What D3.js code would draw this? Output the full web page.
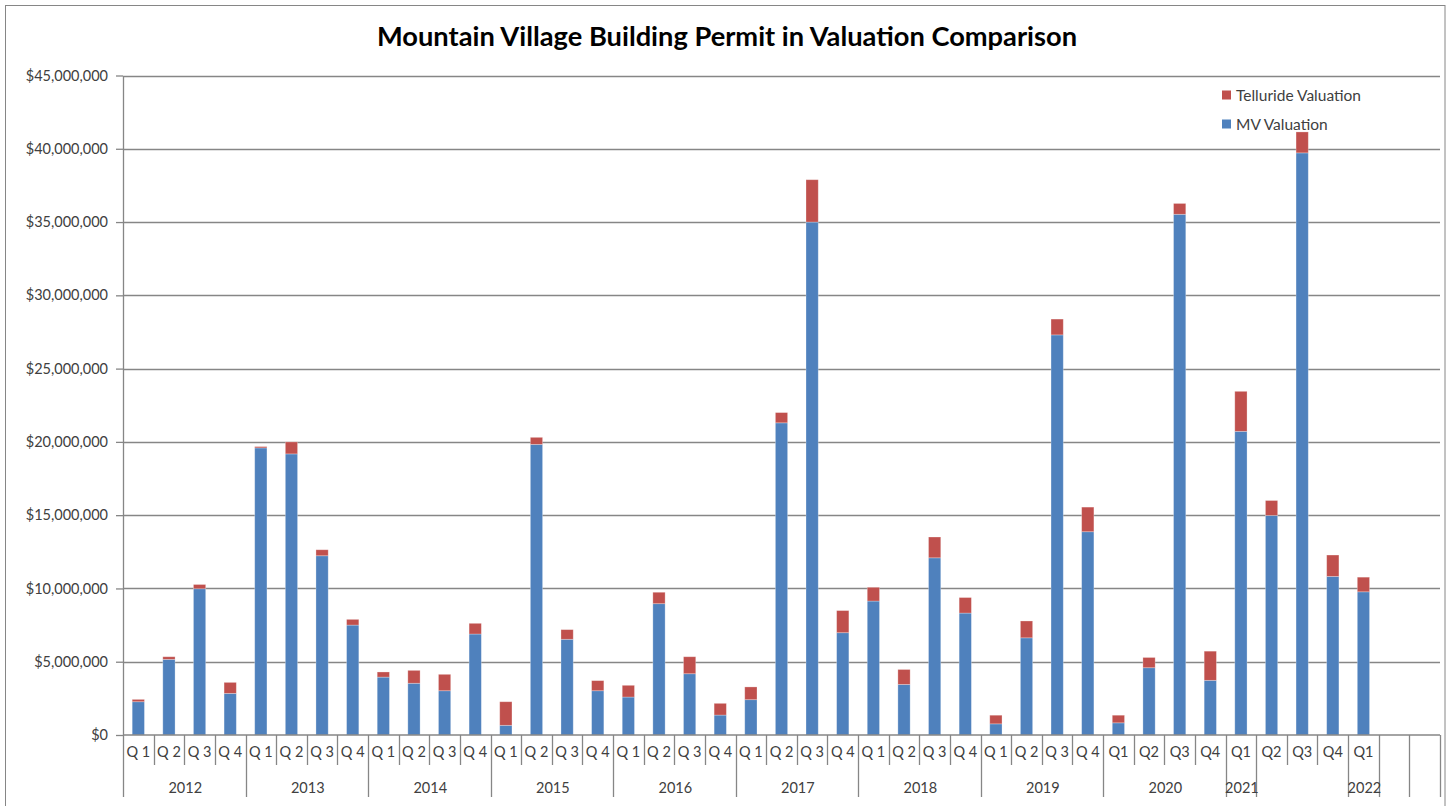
<!DOCTYPE html>
<html>
<head>
<meta charset="utf-8">
<script src="https://cdn.jsdelivr.net/npm/d3@7"></script>
<style>
  html, body { margin: 0; padding: 0; background: #fff; }
  svg { display: block; }
  text { font-family: Lato, "Open Sans", sans-serif; }
</style>
</head>
<body>
<svg id="chart" width="1452" height="806"></svg>
<script>
// ---- data (values in dollars) ----
const quarterLabels = [
  "Q 1","Q 2","Q 3","Q 4", "Q 1","Q 2","Q 3","Q 4", "Q 1","Q 2","Q 3","Q 4",
  "Q 1","Q 2","Q 3","Q 4", "Q 1","Q 2","Q 3","Q 4", "Q 1","Q 2","Q 3","Q 4",
  "Q 1","Q 2","Q 3","Q 4", "Q 1","Q 2","Q 3","Q 4",
  "Q1","Q2","Q3","Q4", "Q1","Q2","Q3","Q4", "Q1", "", ""
];
const yearLabels = ["2012","2013","2014","2015","2016","2017","2018","2019","2020","2021","","2022","",""];
const yearSpans  = [4,4,4,4,4,4,4,4,4,1,3,1,1,1];

const mvValuation = [
  2270000, 5160000, 9980000, 2840000,
  19590000, 19180000, 12230000, 7500000,
  3950000, 3530000, 3020000, 6890000,
  660000, 19830000, 6530000, 3020000,
  2590000, 8960000, 4180000, 1360000,
  2410000, 21300000, 35000000, 6980000,
  9140000, 3450000, 12090000, 8320000,
  760000, 6630000, 27300000, 13870000,
  830000, 4590000, 35530000, 3730000,
  20720000, 14980000, 39720000, 10820000,
  9770000
];
const tellurideValuation = [
  160000, 180000, 290000, 750000,
  90000, 820000, 410000, 390000,
  350000, 880000, 1120000, 730000,
  1610000, 480000, 660000, 690000,
  800000, 780000, 1160000, 800000,
  870000, 700000, 2890000, 1510000,
  940000, 1020000, 1420000, 1060000,
  590000, 1150000, 1080000, 1680000,
  520000, 700000, 740000, 1990000,
  2730000, 1020000, 1430000, 1460000,
  1000000
];
const yTicks = [0, 5e6, 10e6, 15e6, 20e6, 25e6, 30e6, 35e6, 40e6, 45e6];
const seriesNames = ["Telluride Valuation", "MV Valuation"];
const seriesColors = ["#C0504D", "#4F81BD"];
const chartTitle = "Mountain Village Building Permit in Valuation Comparison";

(function () {
// ---- layout ----
const svg = d3.select("#chart");
const plotLeft = 123, plotRight = 1440, plotTop = 75.5, plotBottom = 735;
const gridColor = "#868686";
const textColor = "#404040";

// outer border
svg.append("rect").attr("x", 5.5).attr("y", 5.5).attr("width", 1439.5).attr("height", 820)
  .attr("fill", "none").attr("stroke", gridColor).attr("stroke-width", 1);

const x = d3.scaleBand().domain(d3.range(quarterLabels.length)).range([plotLeft, plotRight])
  .paddingInner(0.6).paddingOuter(0.3);
const step = x.step();
const y = d3.scaleLinear().domain([0, 45e6]).range([plotBottom, plotTop]);

// gridlines
svg.append("g").selectAll("line").data(yTicks.filter(d => d > 0)).join("line")
  .attr("x1", plotLeft).attr("x2", plotRight)
  .attr("y1", d => Math.round(y(d)) + 0.5).attr("y2", d => Math.round(y(d)) + 0.5)
  .attr("stroke", gridColor).attr("stroke-width", 1.3);

// y axis
const yAxis = d3.axisLeft(y).tickValues(yTicks).tickSize(7).tickSizeOuter(0).tickPadding(8)
  .tickFormat(d => "$" + d3.format(",")(d));
const gy = svg.append("g").attr("transform", `translate(${plotLeft},0)`).call(yAxis);
gy.select(".domain").attr("stroke", gridColor).attr("stroke-width", 1.3);
gy.selectAll(".tick line").attr("stroke", gridColor).attr("stroke-width", 1.3);
gy.selectAll(".tick text").attr("fill", textColor).style("font-size", "14.5px")
  .style("font-family", "Lato, 'Open Sans', sans-serif");

// stacked bars
const stackData = mvValuation.map((mv, i) => ({ i, mv, tel: tellurideValuation[i] }));
const stack = d3.stack().keys(["mv", "tel"])(stackData);
const colorFor = { mv: seriesColors[1], tel: seriesColors[0] };
svg.append("g").selectAll("g").data(stack).join("g")
  .attr("fill", s => colorFor[s.key])
  .selectAll("rect").data(s => s).join("rect")
  .attr("x", d => x(d.data.i))
  .attr("width", x.bandwidth())
  .attr("y", d => y(d[1]))
  .attr("height", d => y(d[0]) - y(d[1]))
  .attr("stroke", "#ffffff").attr("stroke-opacity", 0.35).attr("stroke-width", 0.8);

// x axis line
svg.append("line").attr("x1", plotLeft).attr("x2", plotRight).attr("y1", plotBottom).attr("y2", plotBottom)
  .attr("stroke", gridColor).attr("stroke-width", 1.3);

// category boundaries
const boundary = i => x(i) - x.paddingOuter() * step;
const gx = svg.append("g");
const yearStarts = [];
let acc = 0;
yearSpans.forEach(s => { yearStarts.push(acc); acc += s; });
const yearBoundarySet = new Set(yearStarts.concat([acc]));
for (let i = 0; i <= quarterLabels.length; i++) {
  const bx = Math.round(i < quarterLabels.length ? boundary(i) : plotRight) + 0.5;
  const full = yearBoundarySet.has(i);
  gx.append("line").attr("x1", bx).attr("x2", bx).attr("y1", plotBottom)
    .attr("y2", full ? 797 : 765).attr("stroke", gridColor).attr("stroke-width", 1.3);
}
// quarter labels
gx.selectAll("text.q").data(quarterLabels).join("text").attr("class", "q")
  .attr("x", (d, i) => x(i) + x.bandwidth() / 2).attr("y", 757)
  .attr("text-anchor", "middle").attr("fill", textColor).style("font-size", "14.5px")
  .text(d => d);
// year labels
gx.selectAll("text.yr").data(yearLabels).join("text").attr("class", "yr")
  .attr("x", (d, k) => {
    const s = yearStarts[k], e = s + yearSpans[k];
    const x0 = boundary(s), x1 = e < quarterLabels.length ? boundary(e) : plotRight;
    return (x0 + x1) / 2 + 1;
  })
  .attr("y", 793).attr("text-anchor", "middle").attr("fill", textColor).style("font-size", "14.5px")
  .text(d => d);

// title
const t = svg.append("text").attr("x", 727).attr("y", 46).attr("text-anchor", "middle")
  .attr("fill", "#000").style("font-weight", "bold").style("font-size", "26px").text(chartTitle);
const tw = t.node().getComputedTextLength();
t.style("font-size", (26 * 700 / tw).toFixed(2) + "px");

// legend
const lg = svg.append("g");
seriesNames.forEach((name, k) => {
  const ly = 95 + k * 29;
  lg.append("rect").attr("x", 1222).attr("y", ly - 4.5).attr("width", 9).attr("height", 9)
    .attr("fill", seriesColors[k]);
  lg.append("text").attr("x", 1236).attr("y", ly + 5.5).attr("fill", textColor)
    .style("font-size", "15.5px").text(name);
});
})();
</script>
</body>
</html>
